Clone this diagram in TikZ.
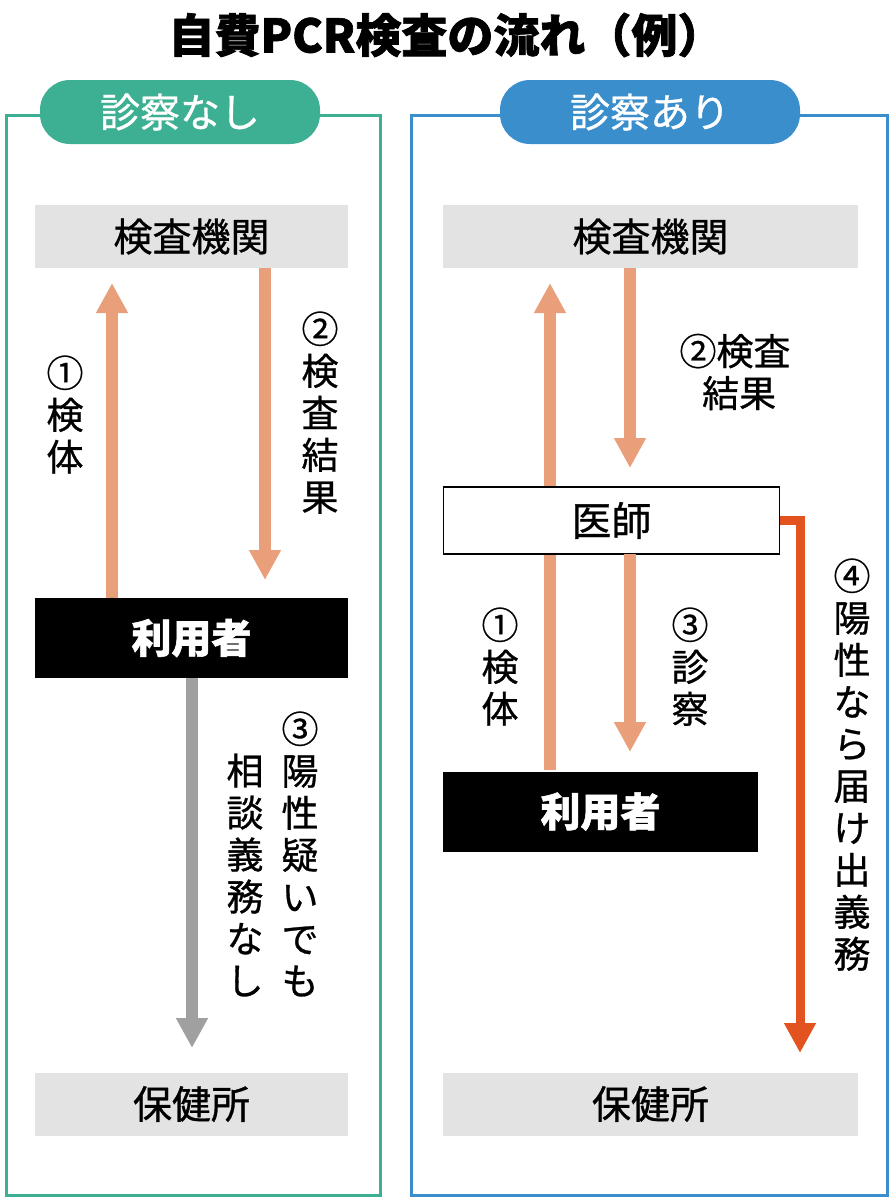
\documentclass[tikz,border=0pt]{standalone}
\usepackage{fontspec}
\setmainfont{Noto Sans CJK JP}[FakeBold=1.5]
\newfontfamily\midf{Noto Sans CJK JP}[FakeBold=0.8]
\usetikzlibrary{arrows.meta}
\definecolor{teal}{HTML}{3DAF92}
\definecolor{blu}{HTML}{3A8ECC}
\definecolor{org}{HTML}{E9A07A}
\definecolor{red}{HTML}{E2531F}
\definecolor{gry}{HTML}{A0A0A0}
\definecolor{box}{HTML}{E3E3E3}
\begin{document}
\begin{tikzpicture}[x=1pt,y=-1pt,
 gbox/.style={fill=box,minimum height=63pt,font=\midf\fontsize{39}{39}\selectfont},
 kbox/.style={fill=black,text=white,minimum height=80pt,font=\bfseries\fontsize{40}{40}\selectfont},
 tab/.style={rounded corners=30pt,text=white,minimum height=64pt,font=\midf\fontsize{40}{40}\selectfont},
 lab/.style={align=center,font=\midf\fontsize{37}{42}\selectfont},
 arr/.style={line width=12pt,-{Triangle[length=30pt,width=30pt]}}]
\useasboundingbox (0,0) rectangle (893,1200);
\node (title) at (446,35) {\bfseries\fontsize{46}{46}\selectfont 自費PCR検査の流れ（例）};
% panels
\draw[teal,line width=3pt] (6,115) rectangle (380,1195);
\draw[blu,line width=3pt] (411,115) rectangle (887,1195);
\node[tab,fill=teal,minimum width=280pt] (tl) at (180,112) {診察なし};
\node[tab,fill=blu,minimum width=300pt] (tr) at (650,112) {診察あり};
% left
\node[gbox,minimum width=313pt] (lk) at (191.5,236.5) {検査機関};
\node[kbox,minimum width=313pt] (lu) at (191.5,638) {利用者};
\node[gbox,minimum width=313pt] (lh) at (191.5,1104) {保健所};
\coordinate (a1s) at (112,598); \coordinate (a1e) at (112,283);
\draw[arr,org] (a1s) -- (a1e);
\coordinate (a2s) at (265,268); \coordinate (a2e) at (265,580);
\draw[arr,org] (a2s) -- (a2e);
\coordinate (a3s) at (192,678); \coordinate (a3e) at (192,1048);
\draw[arr,gry] (a3s) -- (a3e);
\node[lab,anchor=north] (l1) at (65,352) {①\\検\\体};
\node[lab,anchor=north] (l2) at (320,308) {②\\検\\査\\結\\果};
\node[lab,anchor=north] (l3a) at (300,708) {③\\陽\\性\\疑\\い\\で\\も};
\node[lab,anchor=north] (l3b) at (245,750) {相\\談\\義\\務\\な\\し};
% right
\node[gbox,minimum width=415pt] (rk) at (650.5,236.5) {検査機関};
\coordinate (b1s) at (550,770); \coordinate (b1e) at (550,283);
\draw[arr,org] (b1s) -- (b1e);
\node[draw=black,line width=1.5pt,fill=white,minimum width=336pt,minimum height=67pt,font=\midf\fontsize{40}{40}\selectfont] (doc) at (611.5,520.5) {医師};
\node[kbox,minimum width=315pt] (ru) at (600.5,811.5) {利用者};
\node[gbox,minimum width=415pt] (rh) at (650.5,1104) {保健所};
\coordinate (b2s) at (630,268); \coordinate (b2e) at (630,468);
\draw[arr,org] (b2s) -- (b2e);
\coordinate (b3s) at (630,554); \coordinate (b3e) at (630,752);
\draw[arr,org] (b3s) -- (b3e);
\coordinate (b4e) at (800,1053);
\draw[line width=9pt,red,-{Triangle[length=30pt,width=30pt]}] (doc.east) -| (b4e);
\node[lab] (r2) at (735,372) {②検査\\\ 結果};
\node[lab,anchor=north] (r1) at (500,604) {①\\検\\体};
\node[lab,anchor=north] (r3) at (690,604) {③\\診\\察};
\node[lab,anchor=north] (r4) at (852,555) {④\\陽\\性\\な\\ら\\届\\け\\出\\義\\務};
\end{tikzpicture}
\end{document}
